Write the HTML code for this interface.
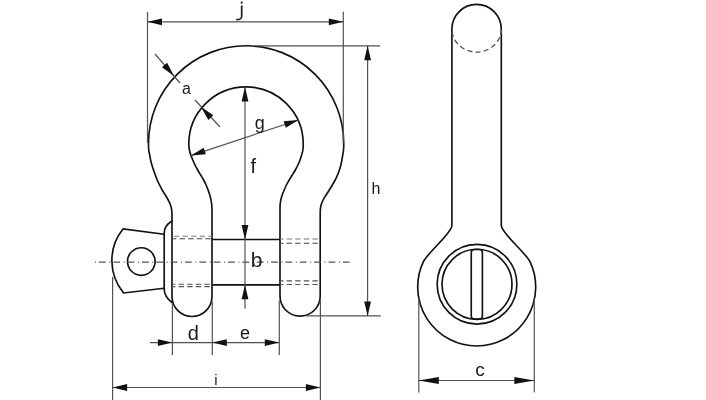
<!DOCTYPE html>
<html><head><meta charset="utf-8"><style>
html,body{margin:0;padding:0;background:#fff;}
svg{display:block;filter:grayscale(1);}
text{font-family:"Liberation Sans",sans-serif;fill:#1a1a1a;}

</style></head><body>
<svg width="706" height="400" viewBox="0 0 706 400">
<rect width="706" height="400" fill="#fff"/>
<path d="M172,296.5 V220 L172.00,220.00 C172.00,218.33 172.00,216.67 172.00,215.00 C172.00,213.33 171.86,211.67 171.70,210.00 C171.54,208.33 171.03,206.67 170.50,205.00 C169.97,203.33 169.06,201.67 168.20,200.00 C167.34,198.33 166.30,196.67 165.30,195.00 C164.30,193.33 163.14,191.67 162.20,190.00 C161.26,188.33 160.43,186.67 159.60,185.00 C158.77,183.33 157.91,181.67 157.20,180.00 C156.49,178.33 155.92,176.67 155.30,175.00 C154.68,173.33 154.06,171.67 153.50,170.00 C152.94,168.33 152.38,166.67 151.90,165.00 C151.42,163.33 150.95,161.67 150.60,160.00 C150.25,158.33 150.01,156.67 149.70,155.00 C149.39,153.33 148.88,151.67 148.75,150.00 C148.62,148.33 148.50,146.67 148.50,145.00 L148.5,143.4 A97.625,97.625 0 0 1 343.75,143.4 L343.75,145.00 C343.75,146.67 343.62,148.33 343.50,150.00 C343.38,151.67 343.02,153.33 342.75,155.00 C342.48,156.67 342.21,158.33 341.90,160.00 C341.59,161.67 341.30,163.33 340.90,165.00 C340.50,166.67 339.96,168.33 339.40,170.00 C338.84,171.67 338.19,173.33 337.50,175.00 C336.81,176.67 336.06,178.33 335.20,180.00 C334.34,181.67 333.28,183.33 332.30,185.00 C331.32,186.67 330.33,188.33 329.30,190.00 C328.27,191.67 327.13,193.33 326.10,195.00 C325.07,196.67 323.90,198.33 323.10,200.00 C322.30,201.67 321.48,203.33 321.10,205.00 C320.72,206.67 320.36,208.33 320.30,210.00 C320.24,211.67 320.20,213.33 320.20,215.00 C320.20,216.67 320.20,218.33 320.20,220.00 V296 A20.1,20.1 0 0 1 280,296 V215 L280.00,215.00 C280.00,213.33 280.00,211.67 280.00,210.00 C280.00,208.33 280.04,206.67 280.10,205.00 C280.16,203.33 280.49,201.67 280.80,200.00 C281.11,198.33 281.65,196.67 282.20,195.00 C282.75,193.33 283.50,191.67 284.20,190.00 C284.90,188.33 285.58,186.67 286.40,185.00 C287.22,183.33 288.22,181.67 289.20,180.00 C290.18,178.33 291.28,176.67 292.30,175.00 C293.32,173.33 294.37,171.67 295.30,170.00 C296.23,168.33 297.13,166.67 297.90,165.00 C298.67,163.33 299.39,161.67 300.00,160.00 C300.61,158.33 301.12,156.67 301.60,155.00 C302.08,153.33 302.72,151.67 302.90,150.00 C303.08,148.33 303.25,146.67 303.25,145.00 L303.25,144 A57.2,57.2 0 0 0 188.8,144 L188.80,145.00 C188.87,146.67 189.12,148.33 189.40,150.00 C189.68,151.67 190.25,153.33 190.80,155.00 C191.35,156.67 192.10,158.33 192.80,160.00 C193.50,161.67 194.19,163.33 195.00,165.00 C195.81,166.67 196.75,168.33 197.70,170.00 C198.65,171.67 199.72,173.33 200.70,175.00 C201.68,176.67 202.70,178.33 203.60,180.00 C204.50,181.67 205.36,183.33 206.10,185.00 C206.84,186.67 207.50,188.33 208.10,190.00 C208.70,191.67 209.28,193.33 209.75,195.00 C210.22,196.67 210.69,198.33 211.00,200.00 C211.31,201.67 211.62,203.33 211.75,205.00 C211.88,206.67 212.00,208.33 212.00,210.00 C212.00,211.67 212.00,213.33 212.00,215.00 V296.5 A20,20 0 0 1 172,296.5 Z" fill="none" stroke="#111111" stroke-width="1.65" stroke-linejoin="round"/>
<line x1="212" y1="239.5" x2="280" y2="239.5" stroke="#111111" stroke-width="1.65" />
<line x1="212" y1="284.8" x2="280" y2="284.8" stroke="#111111" stroke-width="1.65" />
<path d="M172,221 C167,224 164.2,228 164.2,233 V289 C164.2,295 167,299 172.6,303" fill="none" stroke="#111111" stroke-width="1.65"/>
<path d="M164.2,234.3 L123,229 A50.5,50.5 0 0 0 123.6,293 L164.2,288.3" fill="none" stroke="#111111" stroke-width="1.65"/>
<circle cx="141.3" cy="261.5" r="13.8" fill="none" stroke="#111111" stroke-width="1.65"/>
<line x1="172" y1="236.2" x2="212" y2="236.2" stroke="#777" stroke-width="1.1" stroke-dasharray="5.4,3.2" stroke-dashoffset="6.7"/>
<line x1="172" y1="238.7" x2="212" y2="238.7" stroke="#444" stroke-width="1.1" stroke-dasharray="5.4,3.2" stroke-dashoffset="1.0"/>
<line x1="172" y1="284.2" x2="212" y2="284.2" stroke="#555" stroke-width="1.1" stroke-dasharray="5.4,3.2" stroke-dashoffset="2.0"/>
<line x1="172" y1="286.6" x2="212" y2="286.6" stroke="#555" stroke-width="1.1" stroke-dasharray="5.4,3.2" stroke-dashoffset="2.0"/>
<line x1="280" y1="239.0" x2="320.2" y2="239.0" stroke="#777" stroke-width="1.1" stroke-dasharray="5.4,3.2" stroke-dashoffset="2.0"/>
<line x1="280" y1="243.3" x2="320.2" y2="243.3" stroke="#444" stroke-width="1.1" stroke-dasharray="5.4,3.2" stroke-dashoffset="2.0"/>
<line x1="280" y1="280.9" x2="320.2" y2="280.9" stroke="#555" stroke-width="1.1" stroke-dasharray="5.4,3.2" stroke-dashoffset="2.0"/>
<line x1="280" y1="284.5" x2="320.2" y2="284.5" stroke="#555" stroke-width="1.1" stroke-dasharray="5.4,3.2" stroke-dashoffset="2.0"/>
<line x1="94.9" y1="262.2" x2="350" y2="262.2" stroke="#555" stroke-width="1.2" stroke-dasharray="1,3,6.8,3.55"/>
<line x1="147.5" y1="11.8" x2="147.5" y2="143" stroke="#525252" stroke-width="1.2" />
<line x1="343.3" y1="11.8" x2="343.3" y2="143" stroke="#525252" stroke-width="1.2" />
<line x1="147.5" y1="21.8" x2="343.3" y2="21.8" stroke="#525252" stroke-width="1.2" />
<polygon points="147.50,21.80 162.00,18.40 162.00,25.20" fill="#111"/>
<polygon points="343.30,21.80 328.80,25.20 328.80,18.40" fill="#111"/>
<path d="M241.7,5.6 V16.3 C241.7,18.9 240.3,19.6 236.3,19.6" fill="none" stroke="#1a1a1a" stroke-width="1.7"/>
<rect x="240.75" y="1.6" width="1.9" height="2" fill="#1a1a1a"/>
<line x1="257" y1="45.8" x2="380" y2="45.8" stroke="#525252" stroke-width="1.2" />
<line x1="306" y1="315.9" x2="380.7" y2="315.9" stroke="#525252" stroke-width="1.2" />
<line x1="367.6" y1="45.8" x2="367.6" y2="315.9" stroke="#525252" stroke-width="1.2" />
<polygon points="367.60,45.80 371.00,60.30 364.20,60.30" fill="#111"/>
<polygon points="367.60,315.90 364.20,301.40 371.00,301.40" fill="#111"/>
<text x="376" y="194" font-size="16" text-anchor="middle">h</text>
<line x1="245" y1="87" x2="245" y2="308.7" stroke="#525252" stroke-width="1.2" />
<polygon points="245.00,87.00 248.40,101.50 241.60,101.50" fill="#111"/>
<polygon points="245.00,239.50 241.60,225.00 248.40,225.00" fill="#111"/>
<polygon points="245.00,284.80 248.40,299.30 241.60,299.30" fill="#111"/>
<text x="253.3" y="173" font-size="20" text-anchor="middle">f</text>
<text x="256.5" y="267" font-size="21" text-anchor="middle">b</text>
<line x1="191" y1="155.6" x2="298.5" y2="120" stroke="#525252" stroke-width="1.2" />
<polygon points="191.00,155.60 203.70,147.81 205.83,154.27" fill="#111"/>
<polygon points="298.50,120.00 285.80,127.79 283.67,121.33" fill="#111"/>
<text x="259.7" y="129" font-size="18" text-anchor="middle">g</text>
<line x1="155" y1="54" x2="180" y2="83" stroke="#525252" stroke-width="1.2" />
<polygon points="174.00,76.00 161.96,67.24 167.11,62.80" fill="#111"/>
<line x1="195" y1="100" x2="220" y2="127" stroke="#525252" stroke-width="1.2" />
<polygon points="201.00,107.00 213.35,115.33 208.36,119.95" fill="#111"/>
<text x="186.5" y="94" font-size="16" text-anchor="middle">a</text>
<line x1="172.4" y1="303" x2="172.4" y2="355" stroke="#525252" stroke-width="1.2" />
<line x1="212.3" y1="302" x2="212.3" y2="355" stroke="#525252" stroke-width="1.2" />
<line x1="279.3" y1="300.5" x2="279.3" y2="355" stroke="#525252" stroke-width="1.2" />
<line x1="150" y1="342.6" x2="279.3" y2="342.6" stroke="#525252" stroke-width="1.2" />
<polygon points="172.40,342.60 157.90,346.00 157.90,339.20" fill="#111"/>
<polygon points="212.30,342.60 226.80,339.20 226.80,346.00" fill="#111"/>
<polygon points="279.30,342.60 264.80,346.00 264.80,339.20" fill="#111"/>
<text x="193.2" y="340" font-size="20" text-anchor="middle">d</text>
<text x="245" y="339.3" font-size="18" text-anchor="middle">e</text>
<line x1="112.6" y1="277" x2="112.6" y2="400" stroke="#525252" stroke-width="1.2" />
<line x1="320.4" y1="300" x2="320.4" y2="400" stroke="#525252" stroke-width="1.2" />
<line x1="112.6" y1="387.5" x2="320.4" y2="387.5" stroke="#525252" stroke-width="1.2" />
<polygon points="112.60,387.50 127.10,384.10 127.10,390.90" fill="#111"/>
<polygon points="320.40,387.50 305.90,390.90 305.90,384.10" fill="#111"/>
<text x="216" y="385" font-size="15" text-anchor="middle">i</text>
<path d="M423.52,261.45 C428.35,252.02 451.9,232.99 451.9,225.51 V29.1 A24.7,24.7 0 0 1 501.3,29.1 V225.51 C501.3,232.99 525.05,252.02 529.88,261.45 A59,59 0 1 1 423.52,261.45 Z" fill="none" stroke="#111111" stroke-width="1.65"/>
<path d="M451.9,29.1 A24.7,23 0 0 0 501.3,29.1" fill="none" stroke="#525252" stroke-width="1.3" stroke-dasharray="5,3.3" stroke-dashoffset="-3"/>
<circle cx="477" cy="284.25" r="39.85" fill="none" stroke="#111111" stroke-width="1.65"/>
<circle cx="477" cy="284.3" r="35" fill="none" stroke="#111111" stroke-width="1.65"/>
<rect x="471.25" y="249.5" width="11.15" height="69.5" rx="3" fill="none" stroke="#111111" stroke-width="1.65"/>
<line x1="418.8" y1="297.5" x2="418.8" y2="392.5" stroke="#525252" stroke-width="1.2" />
<line x1="534.3" y1="297.5" x2="534.3" y2="392.5" stroke="#525252" stroke-width="1.2" />
<line x1="418.8" y1="380.5" x2="534.3" y2="380.5" stroke="#525252" stroke-width="1.2" />
<polygon points="418.80,380.50 438.80,376.90 438.80,384.10" fill="#111"/>
<polygon points="534.30,380.50 514.30,384.10 514.30,376.90" fill="#111"/>
<text x="480" y="376.4" font-size="19" text-anchor="middle">c</text>
</svg>
</body></html>
